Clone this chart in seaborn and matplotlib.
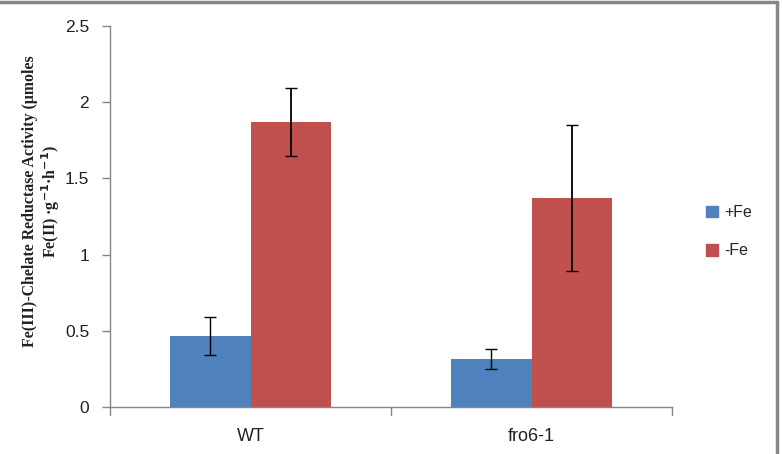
import pandas as pd
import seaborn as sns
import matplotlib.pyplot as plt
from matplotlib.lines import Line2D

genotypes = ["WT", "fro6-1"]
treatments = ["+Fe", "-Fe"]
plus_fe = [0.466, 0.315]
minus_fe = [1.87, 1.37]
plus_fe_err = [0.125, 0.063]
minus_fe_err = [0.22, 0.48]
y_ticks = [0, 0.5, 1, 1.5, 2, 2.5]
y_tick_labels = ["0", "0.5", "1", "1.5", "2", "2.5"]

colors = {"+Fe": "#4F81BD", "-Fe": "#C0504D"}
axis_gray = "#868686"
text_color = "#222222"

df = pd.DataFrame({
    "genotype": genotypes * 2,
    "treatment": [treatments[0]] * 2 + [treatments[1]] * 2,
    "value": plus_fe + minus_fe,
    "err": plus_fe_err + minus_fe_err,
})

sns.set_style("white")
plt.rcParams["font.family"] = ["Liberation Sans", "DejaVu Sans"]

fig = plt.figure(figsize=(7.82, 4.54), dpi=100)
ax = fig.add_axes([110 / 782, 1 - 407 / 454, 562 / 782, 381 / 454])

sns.barplot(data=df, x="genotype", y="value", hue="treatment",
            hue_order=treatments, order=genotypes, palette=colors,
            width=0.573, errorbar=None, saturation=1, ax=ax,
            linewidth=0)

# error bars at the bar centres
for container, tr in zip(ax.containers, treatments):
    sub = df[df["treatment"] == tr].set_index("genotype").loc[genotypes]
    xs = [p.get_x() + p.get_width() / 2 for p in container.patches]
    ax.errorbar(xs, sub["value"], yerr=sub["err"], fmt="none",
                ecolor="black", elinewidth=1.3 if tr == "-Fe" else 1.0,
                capsize=4.5, capthick=1.0)

ax.set_xlim(-0.5, 1.5)
ax.set_ylim(0, 2.5)
ax.set_yticks(y_ticks)
ax.set_yticklabels(y_tick_labels, fontsize=12.5, color=text_color)
ax.set_xticks([0, 1])
ax.set_xticklabels(genotypes, fontsize=13, color=text_color)
ax.tick_params(axis="x", length=0, pad=15)
ax.tick_params(axis="y", length=6, width=1, color=axis_gray, direction="out",
               left=True, pad=9)

# category boundary ticks on the x axis
for xb in [-0.5, 0.5, 1.5]:
    ax.plot([xb, xb], [0, -0.05], color=axis_gray, lw=1, clip_on=False)

for side in ["top", "right"]:
    ax.spines[side].set_visible(False)
for side in ["left", "bottom"]:
    ax.spines[side].set_color(axis_gray)
    ax.spines[side].set_linewidth(1)

ax.set_xlabel("")
ax.set_ylabel("Fe(III)-Chelate Reductase Activity (μmoles\nFe(II) ·g$^{\\mathbf{-1}}$·h$^{\\mathbf{-1}}$)",
              fontsize=11.4, fontweight="bold",
              family=["Liberation Serif", "DejaVu Serif"],
              color=text_color, linespacing=1.1)
ax.yaxis.set_label_coords(-0.085, 0.54)

handles = [plt.Rectangle((0, 0), 1, 1, color=colors[t]) for t in treatments]
ax.legend(handles, treatments, loc="center left", bbox_to_anchor=(1.035, 0.46),
          frameon=False, fontsize=11.5, handlelength=0.75, handleheight=0.75,
          labelspacing=1.45, handletextpad=0.4)

# outer chart frame (top and right edges visible)
fig.add_artist(Line2D([0, 776.5 / 782], [1 - 1.5 / 454, 1 - 1.5 / 454],
                      transform=fig.transFigure, color=axis_gray, lw=2.5))
fig.add_artist(Line2D([776.5 / 782, 776.5 / 782], [0, 1 - 1.5 / 454],
                      transform=fig.transFigure, color=axis_gray, lw=2.5))

fig.savefig("out.png", dpi=100)
